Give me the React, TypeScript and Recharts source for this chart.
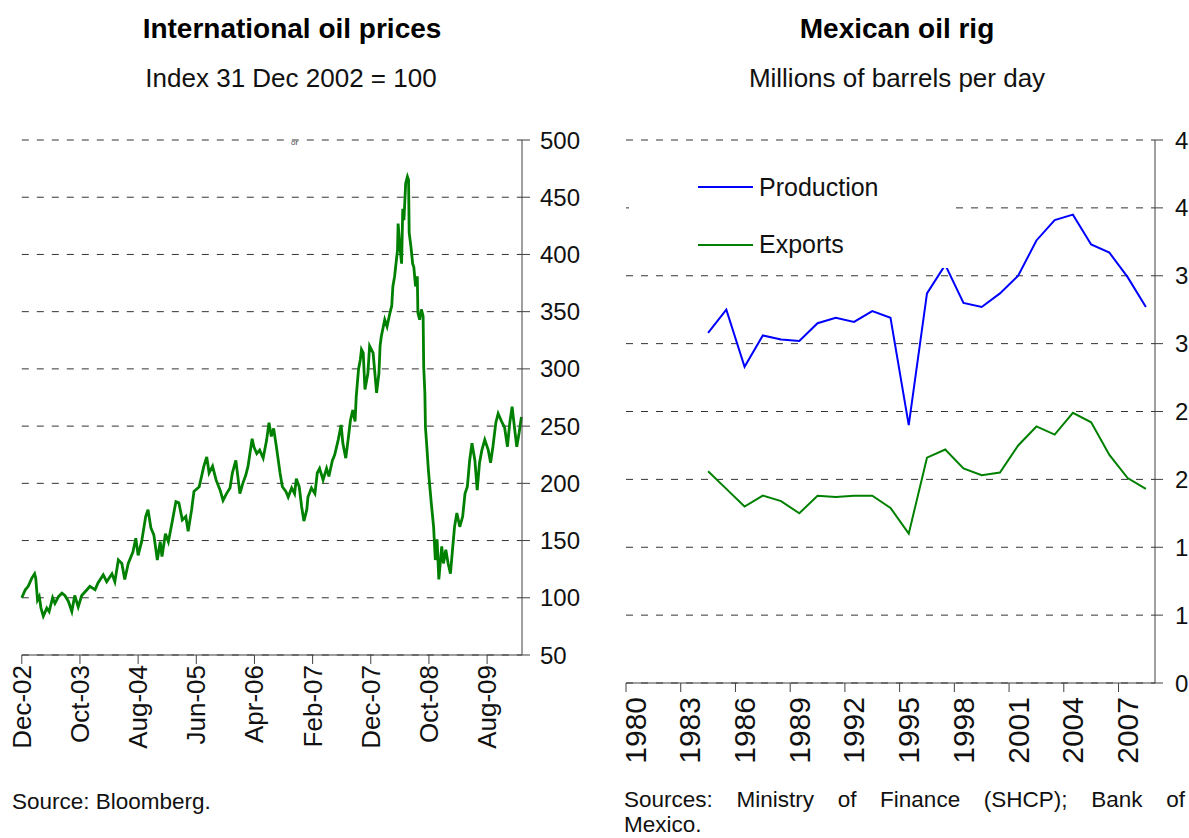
import React from "react"
import { LineChart, Line, XAxis, YAxis, CartesianGrid, Legend } from "recharts"

// International oil prices, index 31 Dec 2002 = 100 (x = months after 31 Dec 2002)
const oilMonths = [
  0, 0.6, 1.1, 1.7, 2.2, 2.4, 2.7, 3.0, 3.3, 3.7, 4.3, 4.7, 5.3, 5.7, 6.3, 6.9, 7.4, 8.0, 8.6, 9.1,
  9.7, 10.3, 11.2, 11.7, 12.6, 13.1, 14.0, 14.6, 15.5, 16.0, 16.6, 17.2, 17.7, 18.3, 19.1, 19.6, 20.0, 20.6, 21.3, 21.7,
  22.2, 22.7, 23.3, 23.8, 24.1, 24.7, 25.2, 25.8, 26.5, 27.0, 27.6, 28.2, 28.6, 29.2, 29.6, 30.5, 30.9, 31.3, 31.8, 32.2,
  32.8, 33.4, 34.1, 34.6, 35.2, 35.8, 36.2, 36.8, 37.0, 37.5, 38.0, 38.5, 38.9, 39.6, 39.9, 40.4, 40.9, 41.5, 42.1, 42.5,
  42.9, 43.3, 43.8, 44.4, 44.8, 45.4, 45.8, 46.4, 46.9, 47.2, 47.7, 48.1, 48.5, 49.0, 49.2, 49.8, 50.4, 50.8, 51.2, 51.8,
  52.4, 52.8, 53.4, 53.8, 54.4, 54.9, 55.2, 55.7, 56.1, 56.5, 56.9, 57.3, 57.5, 57.9, 58.2, 58.4, 58.7, 59.0, 59.5, 59.8,
  60.4, 61.0, 61.4, 61.6, 61.8, 62.4, 62.8, 63.3, 63.6, 63.8, 64.1, 64.4, 64.6, 64.7, 65.0, 65.3, 65.5, 65.7, 66.0, 66.3,
  66.5, 66.6, 66.9, 67.2, 67.4, 67.7, 68.0, 68.1, 68.4, 68.7, 69.0, 69.1, 69.3, 69.4, 69.6, 69.9, 70.1, 70.4, 70.8, 71.1,
  71.4, 71.7, 72.2, 72.5, 72.9, 73.3, 73.7, 74.0, 74.4, 74.8, 75.3, 75.8, 76.2, 76.6, 77.0, 77.4, 77.9, 78.3, 78.7, 79.1,
  79.6, 80.2, 80.6, 81.0, 81.5, 81.9, 82.5, 83.0, 83.5, 83.9, 84.3, 84.7, 85.1, 85.5, 85.9,
]
const oilIndex = [
  100, 107, 110, 117, 121, 117, 98, 101, 91, 84, 91, 88, 100, 95, 101, 104, 102, 97, 88, 102,
  92, 102, 107, 110, 107, 113, 120, 114, 121, 114, 133, 130, 116, 130, 140, 152, 137, 149, 171, 177,
  161, 155, 133, 149, 136, 156, 149, 165, 184, 183, 168, 171, 158, 177, 193, 197, 206, 215, 223, 209,
  215, 203, 194, 185, 191, 196, 209, 220, 212, 191, 200, 207, 215, 239, 232, 226, 229, 222, 238, 253,
  241, 248, 231, 209, 197, 193, 188, 196, 191, 204, 197, 180, 167, 177, 188, 196, 191, 209, 213, 203,
  213, 206, 220, 225, 238, 251, 235, 222, 238, 255, 264, 254, 276, 300, 308, 317, 314, 282, 296, 320,
  314, 279, 296, 320, 328, 343, 337, 349, 355, 372, 381, 395, 404, 427, 407, 392, 440, 430, 462, 468,
  465, 419, 407, 392, 389, 372, 381, 349, 343, 352, 346, 302, 279, 249, 235, 212, 200, 183, 162, 133,
  151, 116, 145, 130, 142, 130, 121, 139, 162, 174, 162, 171, 191, 197, 220, 235, 220, 194, 218, 229,
  238, 229, 218, 232, 253, 261, 254, 249, 232, 253, 267, 249, 232, 244, 258,
]
const oilXTicks = [0, 10, 20, 30, 40, 50, 60, 70, 80]
const oilXLabels = ["Dec-02", "Oct-03", "Aug-04", "Jun-05", "Apr-06", "Feb-07", "Dec-07", "Oct-08", "Aug-09"]
const oilYTicks = [50, 100, 150, 200, 250, 300, 350, 400, 450, 500]

// Mexican oil rig, millions of barrels per day
const rigYears = [
  1984, 1985, 1986, 1987, 1988, 1989, 1990, 1991, 1992, 1993, 1994, 1995, 1996,
  1997, 1998, 1999, 2000, 2001, 2002, 2003, 2004, 2005, 2006, 2007, 2008,
]
const production = [
  2.58, 2.75, 2.33, 2.56, 2.53, 2.52, 2.65, 2.69, 2.66, 2.74, 2.69, 1.9, 2.87,
  3.08, 2.8, 2.77, 2.87, 3.0, 3.26, 3.41, 3.45, 3.23, 3.17, 2.99, 2.77,
]
const exportVolumes = [
  1.56, 1.43, 1.3, 1.38, 1.34, 1.25, 1.38, 1.37, 1.38, 1.38, 1.29, 1.1, 1.66,
  1.72, 1.58, 1.53, 1.55, 1.75, 1.89, 1.83, 1.99, 1.92, 1.68, 1.51, 1.43,
]
const rigSeriesOrder = ["Production", "Exports"]
const rigXLabels = ["1980", "1983", "1986", "1989", "1992", "1995", "1998", "2001", "2004", "2007"]
const rigXTicks = [1979.5, 1982.5, 1985.5, 1988.5, 1991.5, 1994.5, 1997.5, 2000.5, 2003.5, 2006.5]
const rigYTicks = [0, 0.5, 1, 1.5, 2, 2.5, 3, 3.5, 4]
const rigYLabels = ["0", "1", "1", "2", "2", "3", "3", "4", "4"]

const GRID = "#333333"
const AXIS = "#404040"

const OilTick = ({ x, y, index }: any) => (
  <text
    x={x}
    y={y}
    transform={`rotate(-90, ${x}, ${y})`}
    textAnchor="end"
    dominantBaseline="central"
    fontSize={26}
    fill="#111"
  >
    {oilXLabels[index]}
  </text>
)

// labels sit in the middle of the 3-year band, tick marks on its left edge
const RigTick = ({ x, y, index }: any) => {
  const cx = x + 9.1
  return (
    <text
      x={cx}
      y={y}
      transform={`rotate(-90, ${cx}, ${y})`}
      textAnchor="end"
      dominantBaseline="central"
      fontSize={30}
      fill="#111"
    >
      {rigXLabels[index]}
    </text>
  )
}

const RigLegend = ({ payload }: any) => {
  const items = [...(payload || [])].sort(
    (a: any, b: any) => rigSeriesOrder.indexOf(a.value) - rigSeriesOrder.indexOf(b.value)
  )
  return (
    <div style={{ position: "relative", width: 320, height: 118, background: "#fff" }}>
      {items.map((entry: any, i: number) => (
        <div
          key={entry.value}
          style={{
            position: "absolute",
            left: 69,
            top: 22 + i * 57.5,
            height: 30,
            display: "flex",
            alignItems: "center",
            whiteSpace: "nowrap",
          }}
        >
          <span style={{ display: "inline-block", width: 55, height: 2, background: entry.color }} />
          <span style={{ marginLeft: 6, fontSize: 25, color: "#111" }}>{entry.value}</span>
        </div>
      ))}
    </div>
  )
}

export default function App() {
  const oilData = oilMonths.map((m, i) => ({ month: m, index: oilIndex[i] }))
  const rigData = rigYears.map((yr, i) => ({
    year: yr,
    production: production[i],
    exports: exportVolumes[i],
  }))

  return (
    <div
      style={{
        position: "absolute",
        left: 0,
        top: 0,
        width: 1189,
        height: 838,
        background: "#fff",
        overflow: "hidden",
        fontFamily: "'Liberation Sans', Arial, sans-serif",
        color: "#111",
      }}
    >
      <svg width={1189} height={100} style={{ position: "absolute", left: 0, top: 0 }}>
        <text x={292} y={38} textAnchor="middle" fontSize={28} fontWeight="bold" fill="#000">
          International oil prices
        </text>
        <text x={291} y={87} textAnchor="middle" fontSize={26} fill="#111">
          Index 31 Dec 2002 = 100
        </text>
        <text x={897} y={38} textAnchor="middle" fontSize={28} fontWeight="bold" fill="#000">
          Mexican oil rig
        </text>
        <text x={897} y={87} textAnchor="middle" fontSize={26} fill="#111">
          Millions of barrels per day
        </text>
      </svg>

      <div style={{ position: "absolute", left: 0, top: 0 }}>
        <LineChart
          width={600}
          height={780}
          data={oilData}
          margin={{ top: 140, right: 18, bottom: 25, left: 21.8 }}
        >
          <CartesianGrid vertical={false} stroke={GRID} strokeDasharray="7 8" />
          <XAxis
            dataKey="month"
            type="number"
            domain={[0, 86]}
            ticks={oilXTicks}
            interval={0}
            tick={(p: any) => <OilTick {...p} />}
            tickSize={9}
            tickMargin={1}
            height={100}
            axisLine={{ stroke: AXIS }}
            tickLine={{ stroke: AXIS }}
          />
          <YAxis
            orientation="right"
            type="number"
            domain={[50, 500]}
            ticks={oilYTicks}
            interval={0}
            width={60}
            tickSize={8}
            tickMargin={10}
            tick={{ fontSize: 24, fill: "#111" }}
            axisLine={{ stroke: AXIS }}
            tickLine={{ stroke: AXIS }}
          />
          <Line
            type="linear"
            dataKey="index"
            stroke="#008000"
            strokeWidth={2.8}
            dot={false}
            isAnimationActive={false}
          />
        </LineChart>
      </div>
      <svg width={40} height={20} style={{ position: "absolute", left: 286, top: 134 }}>
        <text x={5} y={11} fontSize={8} fill="#444">or</text>
      </svg>

      <div style={{ position: "absolute", left: 600, top: 0 }}>
        <LineChart
          width={589}
          height={800}
          data={rigData}
          margin={{ top: 140, right: 0, bottom: 37, left: 26 }}
        >
          <CartesianGrid vertical={false} stroke={GRID} strokeDasharray="7 8" />
          <XAxis
            dataKey="year"
            type="number"
            domain={[1979.5, 2008.5]}
            ticks={rigXTicks}
            interval={0}
            tick={(p: any) => <RigTick {...p} />}
            tickSize={9}
            tickMargin={5}
            height={80}
            axisLine={{ stroke: AXIS }}
            tickLine={{ stroke: AXIS }}
          />
          <YAxis
            orientation="right"
            type="number"
            domain={[0, 4]}
            ticks={rigYTicks}
            interval={0}
            tickFormatter={(_v: number, i: number) => rigYLabels[i]}
            width={34}
            tickSize={8}
            tickMargin={12}
            tick={{ fontSize: 24, fill: "#111" }}
            axisLine={{ stroke: AXIS }}
            tickLine={{ stroke: AXIS }}
          />
          <Legend
            layout="vertical"
            align="center"
            verticalAlign="middle"
            content={(p: any) => <RigLegend {...p} />}
            wrapperStyle={{ left: 29, top: 150, width: 320, height: 118 }}
          />
          <Line
            type="linear"
            dataKey="production"
            name="Production"
            stroke="#0000ff"
            strokeWidth={2}
            dot={false}
            isAnimationActive={false}
          />
          <Line
            type="linear"
            dataKey="exports"
            name="Exports"
            stroke="#008000"
            strokeWidth={2}
            dot={false}
            isAnimationActive={false}
          />
        </LineChart>
      </div>

      <div style={{ position: "absolute", left: 12, top: 789, fontSize: 22.5, lineHeight: "26px" }}>
        Source: Bloomberg.
      </div>
      <div style={{ position: "absolute", left: 624, top: 787, width: 561, fontSize: 22.5, lineHeight: "25px" }}>
        <div style={{ textAlign: "justify", textAlignLast: "justify" }}>
          Sources: Ministry of Finance (SHCP); Bank of
        </div>
        <div>Mexico.</div>
      </div>
    </div>
  )
}
